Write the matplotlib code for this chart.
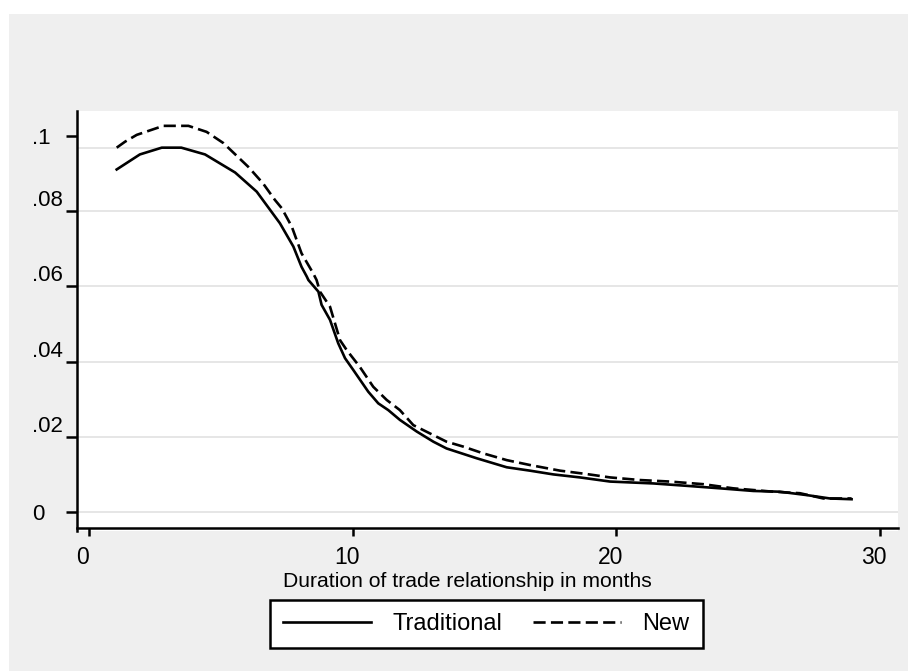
import matplotlib
matplotlib.use('Agg')
import matplotlib.pyplot as plt
from matplotlib.patches import Rectangle
from matplotlib.transforms import ScaledTranslation

plt.rcParams['font.family'] = ['Liberation Sans', 'DejaVu Sans']

# hazard estimates
months_trad = [1.05, 1.93, 2.76, 3.5, 4.4, 5.54, 6.36, 7.24, 7.75, 8.06, 8.26, 8.32,
               8.7, 8.82, 9.14, 9.45, 9.71, 10.02, 10.59, 10.97, 11.35, 11.79, 12.43,
               13.06, 13.56, 14.7, 15.84, 16.72, 17.61, 18.62, 19.76, 21.4, 22.79,
               23.93, 25.19, 26.2, 27.22, 28.1, 28.92]
haz_trad = [0.0911, 0.0951, 0.0969, 0.0969, 0.0951, 0.0903, 0.0852, 0.0768, 0.0706,
            0.0652, 0.0626, 0.0617, 0.0586, 0.0551, 0.0511, 0.0449, 0.0409, 0.0378,
            0.0320, 0.0289, 0.0271, 0.0245, 0.0214, 0.0187, 0.0169, 0.0143, 0.0119,
            0.0110, 0.0100, 0.0092, 0.0081, 0.0076, 0.0069, 0.0063, 0.0056, 0.0054,
            0.0045, 0.0036, 0.0034]

months_new = [1.05, 1.37, 1.81, 2.82, 3.77, 4.46, 5.1, 6.04, 6.6, 7.05, 7.31, 7.69,
              8.06, 8.5, 8.63, 8.76, 9.14, 9.52, 9.77, 10.27, 10.78, 11.29, 11.79,
              12.3, 12.93, 13.56, 14.19, 14.95, 15.84, 16.72, 17.86, 18.87, 19.76,
              20.9, 22.03, 23.3, 24.43, 25.95, 26.96, 27.85, 28.92]
haz_new = [0.0969, 0.0985, 0.1003, 0.1027, 0.1027, 0.1011, 0.0981, 0.0918, 0.0874,
           0.0830, 0.0808, 0.0759, 0.0688, 0.0635, 0.0617, 0.0586, 0.0546, 0.0457,
           0.0431, 0.0386, 0.0333, 0.0298, 0.0271, 0.0231, 0.0209, 0.0187, 0.0174,
           0.0156, 0.0138, 0.0125, 0.0110, 0.0101, 0.0092, 0.0085, 0.0081, 0.0074,
           0.0063, 0.0054, 0.0050, 0.0036, 0.0036]

yticks = [0, 0.02, 0.04, 0.06, 0.08, 0.1]
ytick_labels = ['0', '.02', '.04', '.06', '.08', '.1']
xticks = [0, 10, 20, 30]
grid_vals = [0, 0.02, 0.04, 0.06, 0.08, 0.0968]

W, H = 908, 671
fig = plt.figure(figsize=(W / 100, H / 100), dpi=100)
fig.patch.set_facecolor('white')
fig.patches.append(Rectangle((9 / W, 0), 1, (H - 14) / H, transform=fig.transFigure,
                             facecolor='#efefef', edgecolor='none', zorder=-5))

ax = fig.add_axes([77 / W, (H - 531) / H, (898 - 77) / W, (531 - 111) / H])
ax.set_facecolor('white')
ax.set_xlim(-0.455, 30.68)
ax.set_ylim(-0.00505, 0.10665)

for g in grid_vals:
    ax.axhline(g, color='#e6e6e6', lw=1.4, zorder=1)

ax.plot(months_trad, haz_trad, color='black', lw=1.9, label='Traditional', zorder=3)
ax.plot(months_new, haz_new, color='black', lw=1.9, dashes=(4.6, 2.0), label='New', zorder=3)

ax.spines['top'].set_visible(False)
ax.spines['right'].set_visible(False)
ax.spines['left'].set_linewidth(1.8)
ax.spines['bottom'].set_linewidth(1.8)
ax.spines['bottom'].set_position(('data', -0.0043))

ax.set_yticks(yticks)
ax.set_yticklabels(ytick_labels)
ax.set_xticks(xticks)
ax.tick_params(axis='y', length=8, width=1.8, pad=24.5, labelsize=16)
ax.tick_params(axis='x', length=6, width=1.8, pad=7, labelsize=16.5)
for lab in ax.get_yticklabels():
    lab.set_ha('left')
    if lab.get_text().startswith('.0'):
        lab.set_va('bottom')
shift = ScaledTranslation(-6 / 100, 0, fig.dpi_scale_trans)
for lab in ax.get_xticklabels():
    lab.set_transform(lab.get_transform() + shift)

fig.text(467 / W, 1 - 587 / H, 'Duration of trade relationship in months',
         ha='center', va='baseline', fontsize=15.2)

leg = fig.legend(loc='center', bbox_to_anchor=(486.5 / W, 1 - 624 / H), ncol=2,
                 fontsize=17, handlelength=3.7, handletextpad=0.93, columnspacing=1.3,
                 borderpad=0.55, borderaxespad=0, fancybox=False, framealpha=1)
leg.get_frame().set_edgecolor('black')
leg.get_frame().set_linewidth(1.8)

fig.savefig('out.png', dpi=100)
